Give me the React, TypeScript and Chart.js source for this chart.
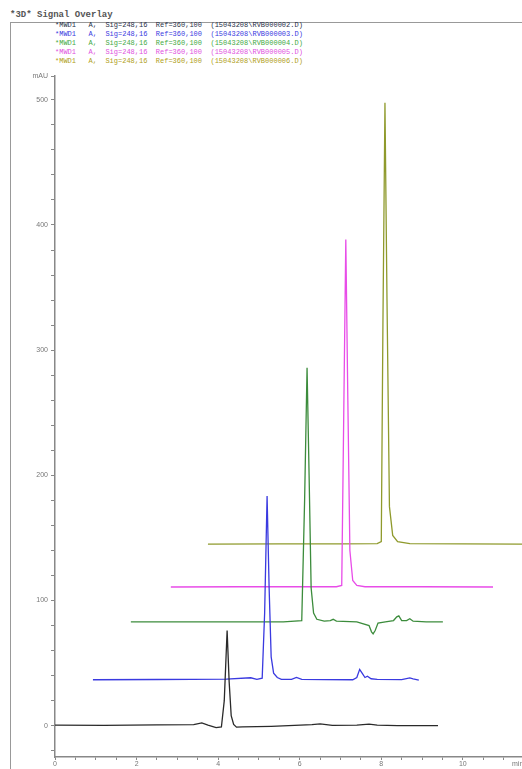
import React, { useEffect, useRef } from "react";
import { Chart, registerables } from "chart.js";

Chart.register(...registerables);

const chartTitle = "*3D* Signal Overlay";
const traceLabels = [
  "*MWD1   A,  Sig=248,16  Ref=360,100  (15043208\\RVB000002.D)",
  "*MWD1   A,  Sig=248,16  Ref=360,100  (15043208\\RVB000003.D)",
  "*MWD1   A,  Sig=248,16  Ref=360,100  (15043208\\RVB000004.D)",
  "*MWD1   A,  Sig=248,16  Ref=360,100  (15043208\\RVB000005.D)",
  "*MWD1   A,  Sig=248,16  Ref=360,100  (15043208\\RVB000006.D)",
];
const traceColors = ["#2a2a2a", "#3a3ae0", "#3c8c3c", "#e84ce8", "#8f9a2c"];
const legendColors = ["#283048", "#3a3ae0", "#44aa44", "#e050e0", "#b0a020"];

// Trace 1 (black)
const t1X = [0, 1.2, 2.5, 3.4, 3.6, 3.75, 3.95, 4.08, 4.15, 4.22, 4.27, 4.32, 4.38, 4.45, 4.6, 5.3, 6.3, 6.5, 6.8, 7.4, 7.7, 7.9, 8.4, 9.39];
const t1Y = [0.5, 0.3, 0.6, 0.8, 2.2, 0.5, -1.5, -1, 20, 76, 35, 8, 1, -1.2, -1, -0.5, 0.8, 1.5, 0.3, 0.5, 1.2, 0.4, 0, 0];
// Trace 2 (blue)
const t2X = [0.93, 2.5, 4.2, 4.8, 4.95, 5.08, 5.14, 5.2, 5.25, 5.3, 5.36, 5.45, 5.55, 5.8, 5.92, 6.05, 6.6, 7.3, 7.4, 7.47, 7.53, 7.6, 7.66, 7.75, 7.9, 8.5, 8.7, 8.78, 8.92];
const t2Y = [36.7, 36.9, 37.2, 38.3, 37, 38, 90, 183.4, 110, 55, 42, 38.5, 37, 37, 38.5, 37, 36.8, 36.7, 38.5, 45, 42, 38.5, 39.5, 37.5, 37, 36.8, 38.2, 37.5, 36.5];
// Trace 3 (green)
const t3X = [1.86, 3.0, 4.5, 5.6, 6.05, 6.12, 6.18, 6.23, 6.28, 6.34, 6.42, 6.6, 6.75, 6.82, 6.9, 7.4, 7.7, 7.76, 7.8, 7.85, 7.92, 8.1, 8.3, 8.38, 8.43, 8.5, 8.62, 8.7, 8.78, 9.1, 9.51];
const t3Y = [82.9, 83, 83, 83, 84, 180, 286, 200, 110, 90, 85, 83.5, 84, 85, 83.5, 83, 80, 75, 73.3, 76, 82, 83, 84, 87, 87.8, 84, 84, 85.5, 83.5, 83, 83];
// Trace 4 (magenta)
const t4X = [2.84, 4.5, 6.0, 6.9, 7.03, 7.08, 7.13, 7.18, 7.23, 7.3, 7.4, 7.6, 9.0, 10.74];
const t4Y = [110.8, 111, 111, 111, 112, 250, 388.4, 260, 140, 116, 112, 111, 111, 110.8];
// Trace 5 (olive)
const t5X = [3.75, 5.5, 7.0, 7.9, 8.0, 8.04, 8.09, 8.14, 8.2, 8.28, 8.4, 8.7, 10, 11.6];
const t5Y = [145.1, 145.2, 145.3, 145.5, 147, 320, 497.6, 340, 175, 152, 147, 145.5, 145.2, 145.1];

const xMin = 0;
const xMax = 11.45;
const xMajorTicks = [0, 2, 4, 6, 8, 10];
const xMinorStep = 0.5;
const xUnitLabel = "min";
const yMin = -25;
const yMax = 519;
const yMajorTicks = [0, 100, 200, 300, 400, 500];
const yMinorStep = 20;
const yUnitLabel = "mAU";

const seriesX = [t1X, t2X, t3X, t4X, t5X];
const seriesY = [t1Y, t2Y, t3Y, t4Y, t5Y];

export default function App() {
  const ref = useRef<HTMLCanvasElement | null>(null);

  useEffect(() => {
    if (!ref.current) return;
    const datasets = seriesX.map((xs, i) => ({
      label: traceLabels[i],
      data: xs.map((x, j) => ({ x, y: seriesY[i][j] })),
      borderColor: traceColors[i],
      borderWidth: 1.3,
      pointRadius: 0,
      tension: 0,
      fill: false,
    }));
    const chart = new Chart(ref.current, {
      type: "line",
      data: { datasets },
      options: {
        animation: false,
        responsive: false,
        devicePixelRatio: 1,
        layout: { padding: { top: 76, left: 0, right: 0, bottom: 0 } },
        plugins: { legend: { display: false }, tooltip: { enabled: false } },
        scales: {
          x: {
            type: "linear",
            min: xMin,
            max: xMax,
            afterBuildTicks: (s: any) => {
              const t: any[] = [];
              for (let v = xMin; v <= xMax + 1e-9; v += xMinorStep) t.push({ value: v });
              t.push({ value: xMax });
              s.ticks = t;
            },
            afterFit: (s: any) => {
              s.height = 12;
            },
            ticks: {
              autoSkip: false,
              maxRotation: 0,
              padding: 0,
              color: "#777",
              font: { size: 7, family: "Liberation Sans" },
              callback: (v: any) => (xMajorTicks.includes(v) ? String(v) : ""),
            },
            grid: { drawOnChartArea: false, tickLength: 3, color: "#888" },
            border: { color: "#888", width: 1.5 },
          },
          y: {
            type: "linear",
            min: yMin,
            max: yMax,
            afterBuildTicks: (s: any) => {
              const t: any[] = [];
              for (let v = -20; v <= yMax; v += yMinorStep) t.push({ value: v });
              t.push({ value: yMax });
              s.ticks = t;
            },
            afterFit: (s: any) => {
              s.width = 55;
            },
            ticks: {
              autoSkip: false,
              padding: 3,
              color: "#777",
              font: { size: 7, family: "Liberation Sans" },
              callback: (v: any) => {
                if (Math.abs(v - yMax) < 1e-6) return yUnitLabel;
                return yMajorTicks.includes(v) ? String(v) : "";
              },
            },
            grid: { drawOnChartArea: false, tickLength: 4, color: "#888" },
            border: { color: "#888", width: 1.5 },
          },
        },
      },
    });
    return () => chart.destroy();
  }, []);

  return (
    <div
      style={{
        position: "absolute",
        left: 0,
        top: 0,
        width: 522,
        height: 769,
        overflow: "hidden",
        background: "#fff",
      }}
    >
      <div
        style={{
          position: "absolute",
          left: 10,
          top: 22,
          width: 700,
          height: 900,
          border: "1.5px solid #999",
        }}
      />
      <div
        style={{
          position: "absolute",
          left: 10,
          top: 9,
          fontFamily: "Liberation Mono",
          fontSize: 9,
          fontWeight: "bold",
          color: "#555",
          whiteSpace: "pre",
          lineHeight: "12px",
        }}
      >
        {chartTitle}
      </div>
      <div
        style={{
          position: "absolute",
          left: 55,
          top: 21,
          fontFamily: "Liberation Mono",
          fontSize: 7,
          whiteSpace: "pre",
          lineHeight: "9px",
        }}
      >
        {traceLabels.map((l, i) => (
          <div key={i} style={{ color: legendColors[i] }}>
            {l}
          </div>
        ))}
      </div>
      <canvas
        ref={ref}
        width={522}
        height={769}
        style={{ position: "absolute", left: 0, top: 0, width: 522, height: 769 }}
      />
      <div
        style={{
          position: "absolute",
          left: 512,
          top: 760,
          fontFamily: "Liberation Sans",
          fontSize: 7,
          color: "#777",
          whiteSpace: "pre",
        }}
      >
        {xUnitLabel}
      </div>
    </div>
  );
}
